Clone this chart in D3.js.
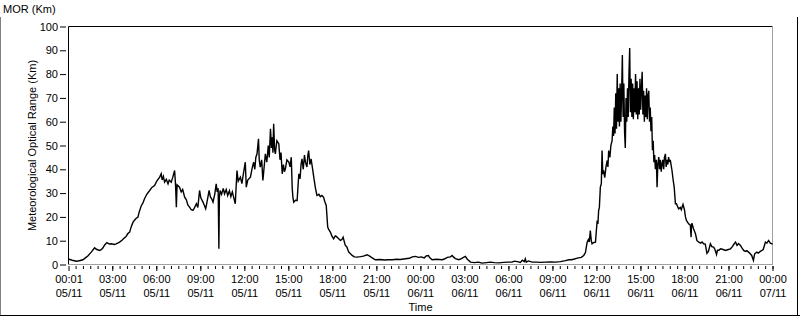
<!DOCTYPE html>
<html>
<head>
<meta charset="utf-8">
<script src="https://cdn.jsdelivr.net/npm/d3@7"></script>
<style>
  html, body { margin: 0; padding: 0; background: #fff; }
  svg { display: block; font-family: "Liberation Sans", Arial, sans-serif; }
</style>
</head>
<body>
<svg id="chart" width="800" height="317"></svg>
<script>
// ---- Data (minutes since 05/11 00:00, MOR in km) ----
const minutes = [1,5,16,33,45,60,70,81,94,108,115,128,135,142,149,158,168,176,188,196,210,221,230,237,243,251,258,265,270,276,285,290,299,305,312,321,333,342,353,362,374,380,384,389,394,401,408,413,421,427,435,439,442,445,455,462,468,476,483,489,496,503,510,517,524,530,537,542,551,556,562,567,576,581,587,592,599,605,609,613,616,618,621,627,634,639,646,652,659,665,671,677,683,690,695,704,710,716,724,728,734,745,751,758,763,767,772,778,781,785,791,796,802,806,812,818,822,827,831,834,837,840,844,847,853,861,866,870,875,880,884,888,894,902,907,912,916,919,922,929,936,939,943,948,952,956,961,966,970,976,980,983,988,993,998,1004,1011,1017,1025,1031,1037,1044,1049,1055,1061,1066,1072,1078,1085,1092,1096,1104,1113,1119,1124,1129,1133,1139,1147,1154,1161,1170,1181,1195,1207,1222,1231,1240,1248,1256,1276,1293,1309,1326,1342,1358,1379,1395,1407,1420,1432,1444,1456,1464,1473,1477,1488,1505,1529,1538,1550,1563,1570,1575,1583,1597,1608,1616,1624,1632,1645,1661,1677,1692,1710,1726,1743,1760,1780,1800,1815,1824,1837,1849,1857,1865,1869,1873,1882,1897,1914,1931,1951,1972,1992,2013,2033,2047,2058,2070,2078,2087,2098,2108,2115,2122,2127,2131,2135,2139,2142,2148,2156,2163,2166,2169,2172,2176,2180,2183,2186,2189,2194,2199,2204,2207,2210,2215,2219,2224,2227,2230,2233,2236,2239,2242,2245,2248,2251,2254,2257,2260,2263,2266,2269,2272,2275,2278,2281,2284,2287,2290,2293,2296,2299,2302,2305,2308,2311,2314,2317,2320,2323,2326,2329,2332,2335,2338,2341,2344,2347,2350,2353,2356,2359,2362,2365,2368,2371,2374,2377,2380,2383,2386,2389,2392,2395,2398,2401,2405,2408,2411,2415,2418,2421,2425,2428,2431,2435,2438,2442,2445,2449,2452,2455,2459,2462,2469,2474,2478,2483,2487,2496,2503,2507,2514,2520,2524,2528,2537,2544,2547,2549,2551,2557,2565,2571,2579,2586,2592,2598,2605,2612,2618,2626,2632,2639,2644,2651,2655,2661,2667,2675,2688,2696,2708,2716,2722,2729,2735,2741,2749,2755,2762,2769,2775,2782,2789,2795,2802,2807,2816,2822,2830,2837,2842,2847,2851,2857,2864,2871,2878,2880];
const mor = [2.0,2.2,1.8,1.4,1.6,2.0,2.8,3.7,5.2,7.0,6.4,5.9,6.2,7.0,8.2,9.2,8.6,8.7,8.4,8.7,9.4,10.3,11.2,11.8,12.9,13.6,16.0,17.8,18.5,19.2,19.9,22.0,24.8,25.8,27.6,29.5,31.1,32.4,33.2,35.0,36.7,38.1,35.5,37.0,34.6,35.8,33.9,35.5,34.6,36.5,39.5,33.0,24.1,33.5,32.5,30.5,31.5,28.3,27.2,25.0,24.1,23.0,22.7,24.0,25.5,24.0,31.1,28.0,26.2,25.0,23.4,26.0,31.1,28.5,27.5,26.2,29.5,33.9,30.5,32.0,6.6,28.0,31.1,29.5,32.0,29.7,31.5,29.0,31.0,28.5,30.5,28.0,25.5,39.5,35.0,36.7,34.0,38.0,43.0,32.5,35.5,36.7,40.0,43.0,40.0,45.0,46.5,52.8,44.0,40.9,44.0,35.3,42.0,46.5,43.0,50.0,45.0,57.0,49.0,53.5,47.0,59.1,48.0,46.5,52.0,50.7,44.0,47.0,38.1,42.0,39.0,40.2,44.0,43.0,41.0,45.1,31.8,28.0,26.2,27.0,26.9,32.0,38.1,36.0,42.0,44.4,40.0,46.0,43.0,41.0,46.0,47.9,42.0,44.4,41.0,36.7,32.0,29.0,29.5,28.5,29.0,28.3,26.5,24.8,15.7,14.5,13.6,12.0,10.8,12.0,11.8,11.0,10.1,10.5,11.5,9.5,8.0,7.5,5.2,4.5,3.8,3.2,3.1,3.3,3.5,4.1,3.6,3.0,2.5,2.0,2.1,1.9,2.0,2.0,2.2,2.1,2.4,2.6,3.2,3.4,3.0,3.2,2.8,3.6,3.8,3.0,2.0,2.2,2.0,2.3,3.0,3.2,3.8,3.2,2.5,2.0,2.5,3.0,3.4,2.2,1.0,0.8,1.0,0.6,0.8,1.0,0.8,0.7,0.9,1.0,1.0,1.4,1.2,0.9,1.8,1.2,2.4,1.0,1.5,1.0,1.0,0.9,1.0,1.1,1.0,1.2,1.6,2.0,2.0,2.3,2.6,2.8,3.0,3.8,5.0,9.4,10.5,9.5,14.3,10.0,8.7,9.2,9.4,18.5,17.0,22.7,24.0,32.5,34.0,47.9,38.0,39.5,36.5,41.0,43.7,41.0,47.9,45.0,50.0,52,58,54,66,55,72,57,80,60,74,58,76,60,72,88,62,76,56,49,70,60,74,62,80,91,64,78,62,76,61,74,64,80,63,77,61,74,63,78,65,74,81,63,73,60,71,62,74,61,71,73,60,66,56,62,48,52,43,46.0,40.0,44.0,32.5,42.0,45.1,40.0,44.0,39.0,42.3,44.0,40.0,45.0,46.5,41.0,44.0,42.0,45.1,43.0,44.0,39.5,35.3,32.5,25.5,25.5,23.4,24.0,23.0,25.2,23.0,20.0,18.5,17.1,16.5,11.5,17.0,17.1,15.0,12.9,10.0,9.4,9.0,9.5,8.7,8.6,4.7,5.5,8.7,7.5,7.3,6.5,4.2,6.0,6.0,6.6,6.4,5.9,6.2,6.6,7.5,8.5,9.4,8.0,8.8,8.0,7.0,5.9,5.5,5.8,5.2,4.5,3.8,1.7,4.5,5.2,4.8,5.5,5.9,6.3,8.0,9.4,9.0,10.1,9.0,8.7,8.5];
const yTicks = [0,10,20,30,40,50,60,70,80,90,100];
const majorTickHours = [0,3,6,9,12,15,18,21,24,27,30,33,36,39,42,45,48];
const titleText = "MOR (Km)";
const yTitle = "Meteorological Optical Range (Km)";
const xTitle = "Time";

// ---- Setup ----
const base = new Date(2023, 10, 5, 0, 0, 0);
const toDate = m => new Date(base.getTime() + m * 60000);
const data = minutes.map((m, i) => ({ t: toDate(m), v: mor[i] }));

const svg = d3.select("#chart");
const L = 68.5, R = 772.5, T = 26.5, B = 264.5;

const x = d3.scaleTime().domain([toDate(1), toDate(2880)]).range([L, R]);
const y = d3.scaleLinear().domain([0, 100]).range([B, T]);

// outer frame
svg.append("line").attr("x1", 0.5).attr("y1", 17).attr("x2", 0.5).attr("y2", 316).attr("stroke", "#808080");
svg.append("line").attr("x1", 0).attr("y1", 315.5).attr("x2", 800).attr("y2", 315.5).attr("stroke", "#000");
svg.append("line").attr("x1", 797.5).attr("y1", 17).attr("x2", 797.5).attr("y2", 316).attr("stroke", "#000");

// title
svg.append("text").attr("x", 3).attr("y", 12.5).attr("font-size", 11).attr("fill", "#000").text(titleText);

// plot area frame
svg.append("line").attr("x1", L).attr("y1", T).attr("x2", R).attr("y2", T).attr("stroke", "#000");
svg.append("line").attr("x1", L).attr("y1", T).attr("x2", L).attr("y2", B).attr("stroke", "#000");
svg.append("line").attr("x1", R).attr("y1", T).attr("x2", R).attr("y2", B + 0.5).attr("stroke", "#a0a0a0");
svg.append("line").attr("x1", L).attr("y1", B).attr("x2", R).attr("y2", B).attr("stroke", "#a0a0a0");

// y axis
const yAxis = d3.axisLeft(y).tickValues(yTicks).tickSize(6).tickPadding(2).tickFormat(d3.format("d"));
const gy = svg.append("g").attr("transform", "translate(66,0)").call(yAxis);
gy.select(".domain").remove();
gy.selectAll("line").attr("stroke", "#000");
gy.selectAll("text").attr("font-size", 11).attr("font-family", "Liberation Sans, Arial, sans-serif").attr("fill", "#000");

// x axis: minor ticks every 30 min
const minorVals = d3.range(30, 2881, 30).map(toDate);
const gxm = svg.append("g").attr("transform", "translate(0,266)")
  .call(d3.axisBottom(x).tickValues(minorVals).tickSize(3).tickFormat(""));
gxm.select(".domain").remove();
gxm.selectAll("line").attr("stroke", "#000");

// x axis: major ticks every 3 h
const majorVals = majorTickHours.map(h => toDate(h === 0 ? 1 : h * 60));
const gx = svg.append("g").attr("transform", "translate(0,266)")
  .call(d3.axisBottom(x).tickValues(majorVals).tickSize(5).tickPadding(4).tickFormat(d3.timeFormat("%H:%M|%d/%m")));
gx.select(".domain").remove();
gx.selectAll("line").attr("stroke", "#000");
gx.selectAll("text").each(function() {
  const parts = d3.select(this).text().split("|");
  const t = d3.select(this).text(null).attr("font-size", 11).attr("font-family", "Liberation Sans, Arial, sans-serif").attr("fill", "#000").attr("dy", null).attr("y", 16.5);
  t.append("tspan").attr("x", 0).attr("y", 16.5).text(parts[0]);
  t.append("tspan").attr("x", 0).attr("y", 31).text(parts[1]);
});

// axis titles
svg.append("text").attr("x", (L + R) / 2).attr("y", 310.5).attr("text-anchor", "middle").attr("font-size", 11).attr("fill", "#000").text(xTitle);
svg.append("text").attr("transform", `translate(36,${(T + B) / 2}) rotate(-90)`).attr("text-anchor", "middle").attr("font-size", 11).attr("fill", "#000").text(yTitle);

// data line
const line = d3.line().x(d => x(d.t)).y(d => y(d.v));
svg.append("path").datum(data).attr("d", line).attr("fill", "none").attr("stroke", "#000").attr("stroke-width", 1.4).attr("stroke-linejoin", "miter");
</script>
</body>
</html>
